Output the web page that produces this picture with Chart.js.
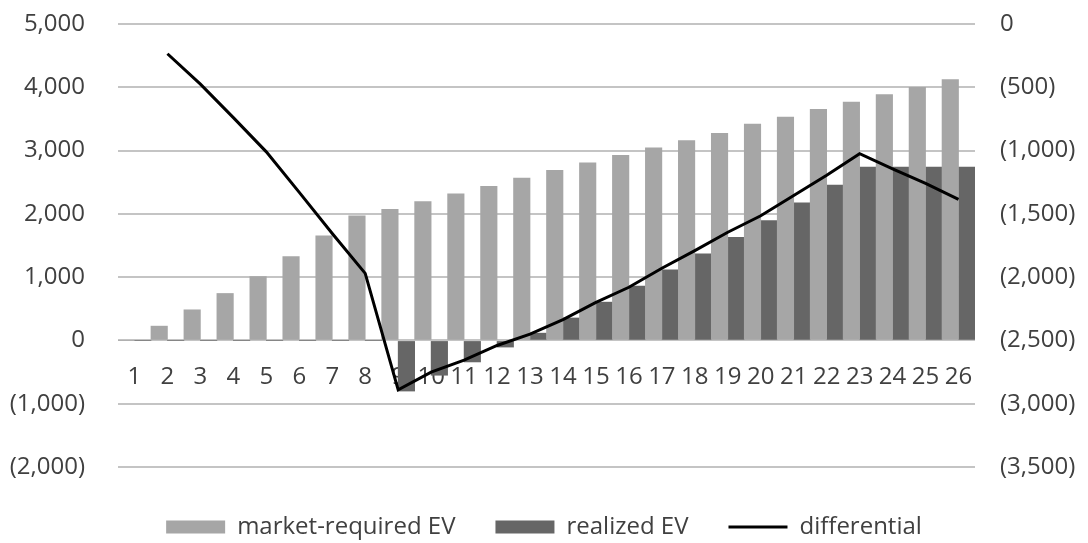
<!DOCTYPE html>
<html>
<head>
<meta charset="utf-8">
<script src="https://cdn.jsdelivr.net/npm/chart.js@4.4.1/dist/chart.umd.min.js"></script>
<style>
  html, body { margin: 0; padding: 0; background: #ffffff; }
  #wrap { width: 1088px; height: 543px; }
</style>
</head>
<body>
<div id="wrap"><canvas id="c" width="1088" height="543"></canvas></div>
<script>
const categories = ['1','2','3','4','5','6','7','8','9','10','11','12','13','14','15','16','17','18','19','20','21','22','23','24','25','26'];
const marketRequired = [0, 226, 484, 742, 1010, 1326, 1652, 1968, 2073, 2194, 2315, 2436, 2567, 2689, 2805, 2926, 3042, 3157, 3273, 3420, 3531, 3652, 3768, 3884, 4000, 4120];
const realized = [0, 0, 0, 0, 0, 0, 0, 0, -800, -550, -340, -105, 115, 355, 605, 860, 1115, 1370, 1630, 1895, 2175, 2455, 2740, 2740, 2740, 2740];
const differential = [null, -235, -475, -740, -1010, -1330, -1655, -1970, -2890, -2750, -2655, -2540, -2450, -2335, -2200, -2080, -1930, -1790, -1645, -1515, -1355, -1195, -1025, -1145, -1260, -1385];
const leftTicks = { min: -2000, max: 5000, step: 1000 };
const rightTicks = { min: -3500, max: 0, step: 500 };

function fmt(v) {
  const s = Math.abs(v).toLocaleString('en-US');
  return v < 0 ? '(' + s + ')' : s;
}

const FONT = "'Open Sans', 'DejaVu Sans', sans-serif";
const TXT = '#404040';

const chart = new Chart(document.getElementById('c'), {
  type: 'bar',
  data: {
    labels: categories,
    datasets: [
      {
        label: 'market-required EV',
        data: marketRequired,
        backgroundColor: '#a6a6a6',
        yAxisID: 'y',
        order: 1,
        categoryPercentage: 1.0,
        barPercentage: 1.0,
        pointStyle: 'rect'
      },
      {
        label: 'realized EV',
        data: realized,
        backgroundColor: '#666666',
        yAxisID: 'y',
        order: 1,
        categoryPercentage: 1.0,
        barPercentage: 1.0,
        pointStyle: 'rect'
      },
      {
        type: 'line',
        label: 'differential',
        data: differential,
        borderColor: '#000000',
        backgroundColor: '#000000',
        borderWidth: 3,
        pointRadius: 0,
        tension: 0,
        yAxisID: 'y2',
        order: 0,
        pointStyle: 'line'
      }
    ]
  },
  options: {
    responsive: false,
    animation: false,
    devicePixelRatio: 1,
    layout: { padding: { top: 24, left: 0, right: 0, bottom: -6 } },
    plugins: {
      tooltip: { enabled: false },
      legend: {
        position: 'bottom',
        title: { display: true, text: '', padding: 0, font: { size: 8, lineHeight: 1 } },
        labels: {
          usePointStyle: true,
          pointStyleWidth: 59,
          boxHeight: 13,
          padding: 40,
          color: TXT,
          font: { family: FONT, size: 24 },
          sort: (a, b) => a.datasetIndex - b.datasetIndex
        }
      }
    },
    scales: {
      x: {
        type: 'category',
        position: { y: 0 },
        offset: true,
        grid: { display: false, drawTicks: false },
        border: { display: false },
        ticks: {
          autoSkip: false,
          maxRotation: 0,
          minRotation: 0,
          padding: 22,
          color: TXT,
          font: { family: FONT, size: 24 }
        }
      },
      y: {
        position: 'left',
        min: leftTicks.min,
        max: leftTicks.max,
        ticks: {
          stepSize: leftTicks.step,
          padding: 3,
          color: TXT,
          font: { family: FONT, size: 24 },
          callback: (v) => fmt(v)
        },
        grid: { color: '#c4c4c4', lineWidth: 2, drawTicks: true, tickLength: 30, tickColor: 'rgba(0,0,0,0)' },
        border: { display: false },
        afterFit: (s) => { s.width = 118; }
      },
      y2: {
        position: 'right',
        min: rightTicks.min,
        max: rightTicks.max,
        ticks: {
          stepSize: rightTicks.step,
          padding: 3,
          color: TXT,
          font: { family: FONT, size: 24 },
          callback: (v) => fmt(v)
        },
        grid: { drawOnChartArea: false, drawTicks: true, tickLength: 22, tickColor: 'rgba(0,0,0,0)' },
        border: { display: false },
        afterFit: (s) => { s.width = 113; }
      }
    }
  }
});
</script>
</body>
</html>
